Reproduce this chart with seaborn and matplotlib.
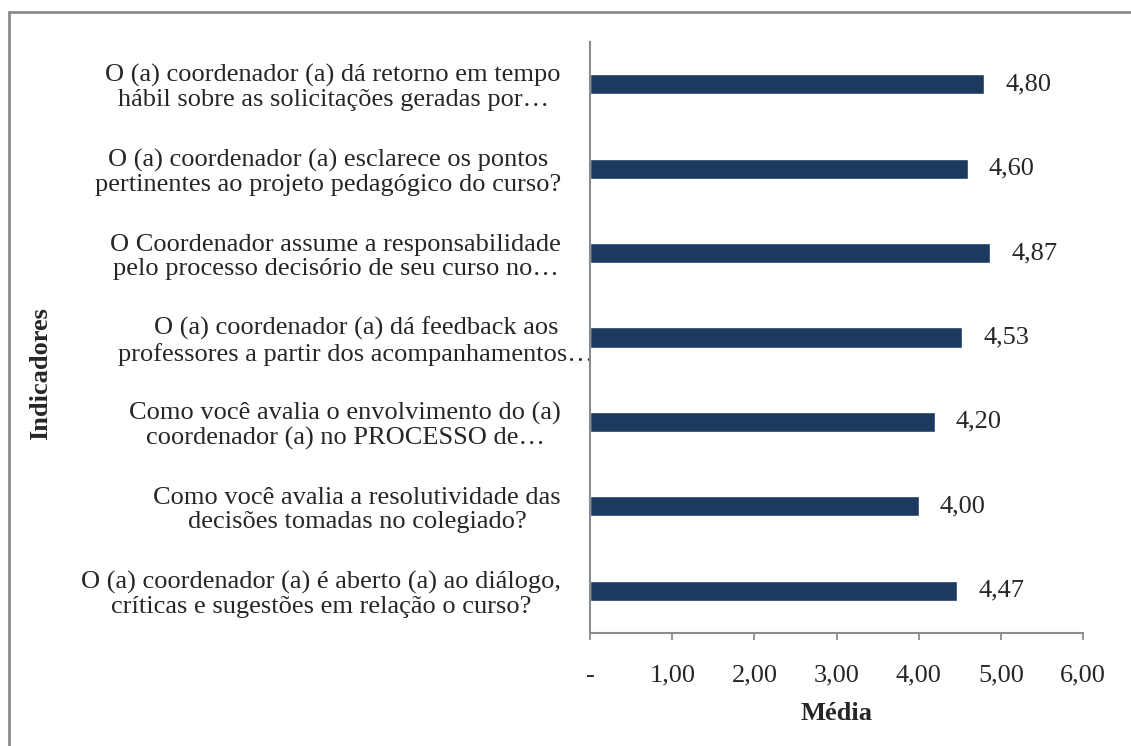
import pandas as pd
import numpy as np
import matplotlib
matplotlib.use("Agg")
import matplotlib.pyplot as plt
import matplotlib.transforms as mtransforms
from matplotlib.lines import Line2D
import seaborn as sns

# Data
indicadores = [
    "O (a) coordenador (a) dá retorno em tempo\nhábil sobre as solicitações geradas por…",
    "O (a) coordenador (a) esclarece os pontos\npertinentes ao projeto pedagógico do curso?",
    "O Coordenador assume a responsabilidade\npelo processo decisório de seu curso no…",
    "O (a) coordenador (a) dá feedback aos\nprofessores a partir dos acompanhamentos…",
    "Como você avalia o envolvimento do (a)\ncoordenador (a) no PROCESSO de…",
    "Como você avalia a resolutividade das\ndecisões tomadas no colegiado?",
    "O (a) coordenador (a) é aberto (a) ao diálogo,\ncríticas e sugestões em relação o curso?",
]
medias = [4.80, 4.60, 4.87, 4.53, 4.20, 4.00, 4.47]
x_ticks = [0, 1, 2, 3, 4, 5, 6]
x_ticklabels = ["-", "1,00", "2,00", "3,00", "4,00", "5,00", "6,00"]

df = pd.DataFrame({"Indicadores": indicadores, "Média": medias})

sns.set_style("white")
plt.rcParams["font.family"] = ["Liberation Serif", "DejaVu Serif"]

bar_color = "#1a3a5f"
axis_gray = "#8c8c8c"
fs = 19

fig = plt.figure(figsize=(11.31, 7.46), dpi=100)
ax = fig.add_axes([0.5217, 0.1515, 0.4359, 0.7922])

sns.barplot(data=df, x="Média", y="Indicadores", orient="h", color=bar_color,
            width=0.24, ax=ax, saturation=1)

ax.set_xlim(0, 6)
ax.set_ylim(6.5, -0.5)
ax.set_xticks(x_ticks)
ax.set_xticklabels(x_ticklabels, fontsize=fs)
ax.set_yticks(range(len(indicadores)))
ax.set_yticklabels(indicadores, fontsize=fs, ha="right", multialignment="center",
                   linespacing=1.13)

ax.tick_params(axis="x", bottom=True, direction="out", length=5, width=1.3,
               color=axis_gray, pad=18)
ax.tick_params(axis="y", left=False, length=0, pad=21)

# the long "feedback" label runs up to the axis in the original
lbl = ax.get_yticklabels()[3]
lbl.set_transform(lbl.get_transform() +
                  mtransforms.ScaledTranslation(0.33, 0, fig.dpi_scale_trans))

for side in ["top", "right"]:
    ax.spines[side].set_visible(False)
for side in ["left", "bottom"]:
    ax.spines[side].set_color(axis_gray)
    ax.spines[side].set_linewidth(1.5)

# value labels
for i, v in enumerate(medias):
    ax.annotate(f"{v:.2f}".replace(".", ","), xy=(v, i), xytext=(15, 0),
                textcoords="offset points", va="center", ha="left", fontsize=fs)

ax.set_xlabel("Média", fontsize=fs, fontweight="bold", labelpad=11)
ax.set_ylabel("")
fig.text(0.036, 0.499, "Indicadores", rotation=90, fontsize=fs, fontweight="bold",
         ha="center", va="center")

# chart border (only left and top edges visible in the original crop)
bx, by = 8.5 / 1131, 1 - 12 / 746
fig.add_artist(Line2D([bx, bx], [0, by], transform=fig.transFigure,
                      color=axis_gray, linewidth=2))
fig.add_artist(Line2D([bx, 1], [by, by], transform=fig.transFigure,
                      color=axis_gray, linewidth=2))

fig.savefig("out.png", dpi=100)
